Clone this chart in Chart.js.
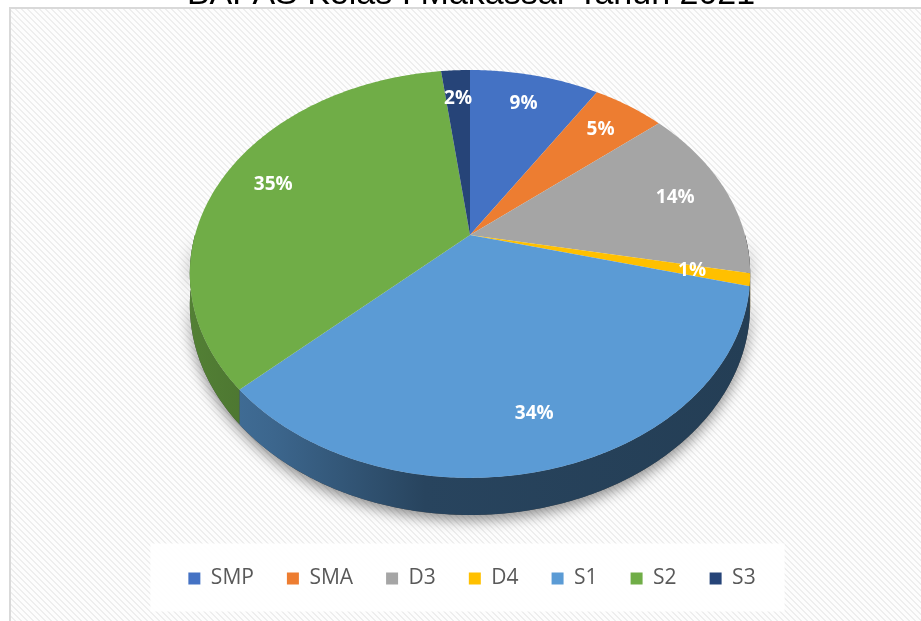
<!DOCTYPE html>
<html>
<head>
<meta charset="utf-8">
<title>Kelas I Makassar Tahun 2021</title>
<script src="https://cdn.jsdelivr.net/npm/chart.js@4.4.1/dist/chart.umd.min.js"></script>
<style>
  html, body { margin: 0; padding: 0; background: #fff; }
  #chart { display: block; }
</style>
</head>
<body>
<canvas id="chart" width="921" height="621"></canvas>
<script>
// Chart data
const categories = ['SMP', 'SMA', 'D3', 'D4', 'S1', 'S2', 'S3'];
const percentages = [9, 5, 14, 1, 34, 35, 2];
const chartTitle = 'BAPAS Kelas I Makassar Tahun 2021';

// Office palette
const sliceColors = ['#4472c4', '#ed7d31', '#a5a5a5', '#ffc000', '#5b9bd5', '#70ad47', '#264478'];

// Tilted pie: where the flat pie lands on screen (centre, half axes, perspective, rim depth)
const tilt = { cx: 470, cy: 235, rx: 275, ry: 196.5, k: 0.191, depth: 30 };

function project(u, v) {
  const w = 1 - tilt.k * v;
  return { x: tilt.cx + tilt.rx * u / w, y: tilt.cy + tilt.ry * v / w };
}

function shade(hex, f) {
  const n = parseInt(hex.slice(1), 16);
  const r = Math.round(((n >> 16) & 255) * f);
  const g = Math.round(((n >> 8) & 255) * f);
  const b = Math.round((n & 255) * f);
  return `rgb(${r},${g},${b})`;
}

function makeHatch() {
  const size = 6;
  const tile = document.createElement('canvas');
  tile.width = size;
  tile.height = size;
  const tctx = tile.getContext('2d');
  const img = tctx.createImageData(size, size);
  for (let y = 0; y < size; y++) {
    for (let x = 0; x < size; x++) {
      const d = ((x - y) % size + size) % size;
      const c = d < 2 ? 238 : 253;
      const i = (y * size + x) * 4;
      img.data[i] = c; img.data[i + 1] = c; img.data[i + 2] = c; img.data[i + 3] = 255;
    }
  }
  tctx.putImageData(img, 0, 0);
  return tile;
}

/**
 * Page background, frame, (cut off) title and the legend panel
 */
const backgroundPlugin = {
  id: 'background',
  beforeDraw(chart) {
    const { ctx, width, height } = chart;
    ctx.save();
    ctx.fillStyle = '#fff';
    ctx.fillRect(0, 0, width, height);
    ctx.fillStyle = ctx.createPattern(makeHatch(), 'repeat');
    ctx.fillRect(11, 9, width, height);
    ctx.strokeStyle = '#d9d9d9';
    ctx.lineWidth = 2;
    ctx.strokeRect(10, 8, width + 20, height + 20);

    ctx.fillStyle = '#000';
    ctx.font = '34px "Liberation Sans", Arial, sans-serif';
    ctx.textAlign = 'center';
    ctx.textBaseline = 'alphabetic';
    ctx.fillText(chartTitle, 471, 4);

    const boxes = chart.legend.legendHitBoxes;
    if (boxes && boxes.length) {
      const first = boxes[0];
      const last = boxes[boxes.length - 1];
      const midY = first.top + first.height / 2;
      ctx.fillStyle = 'rgba(255,255,255,0.92)';
      ctx.fillRect(first.left - 38, midY - 35, last.left + last.width + 29 - (first.left - 38), 68);
    }
    ctx.restore();
  }
};

/**
 * Fake 3D: rim walls under the pie, and a perspective projection for the slices
 */
const tiltPlugin = {
  id: 'tilt',
  beforeDatasetsDraw(chart) {
    const ctx = chart.ctx;
    const arcs = chart.getDatasetMeta(0).data;
    const rimPath = (a, b) => {
      const steps = Math.max(2, Math.ceil((b - a) / 0.01));
      ctx.beginPath();
      for (let i = 0; i <= steps; i++) {
        const t = a + (b - a) * i / steps;
        const p = project(Math.cos(t), Math.sin(t));
        ctx.lineTo(p.x, p.y);
      }
      for (let i = steps; i >= 0; i--) {
        const t = a + (b - a) * i / steps;
        const v = Math.sin(t);
        const p = project(Math.cos(t), v);
        ctx.lineTo(p.x, p.y + tilt.depth / (1 - tilt.k * v));
      }
      ctx.closePath();
    };

    ctx.save();
    // soft drop shadow under the whole rim
    ctx.shadowColor = 'rgba(0,0,0,0.45)';
    ctx.shadowBlur = 14;
    ctx.shadowOffsetY = 5;
    ctx.fillStyle = '#444';
    rimPath(0, Math.PI);
    ctx.fill();
    ctx.restore();

    ctx.save();
    arcs.forEach((arc, i) => {
      const a = Math.max(arc.startAngle, 0);
      const b = Math.min(arc.endAngle, Math.PI);
      if (a >= b) return;
      const base = sliceColors[i];
      const grad = ctx.createLinearGradient(tilt.cx - tilt.rx * 1.02, 0, tilt.cx + tilt.rx * 1.02, 0);
      grad.addColorStop(0, shade(base, 0.74));
      grad.addColorStop(0.15, shade(base, 0.66));
      grad.addColorStop(0.42, shade(base, 0.44));
      grad.addColorStop(1, shade(base, 0.40));
      ctx.fillStyle = grad;
      rimPath(a, b);
      ctx.fill();
    });
    ctx.restore();

    // project the slices the library draws
    const ref = arcs[0];
    const toScreen = (x, y) => project((x - ref.x) / ref.outerRadius, (y - ref.y) / ref.outerRadius);
    const lineTo = CanvasRenderingContext2D.prototype.lineTo;
    const moveTo = CanvasRenderingContext2D.prototype.moveTo;
    ctx.moveTo = function (x, y) {
      const p = toScreen(x, y);
      moveTo.call(ctx, p.x, p.y);
    };
    ctx.lineTo = function (x, y) {
      const p = toScreen(x, y);
      lineTo.call(ctx, p.x, p.y);
    };
    ctx.arc = function (x, y, r, a0, a1, ccw) {
      if (r <= 0) {
        const p = toScreen(x, y);
        lineTo.call(ctx, p.x, p.y);
        return;
      }
      let sweep = a1 - a0;
      if (!ccw && sweep < 0) sweep += Math.PI * 2;
      if (ccw && sweep > 0) sweep -= Math.PI * 2;
      const steps = Math.max(2, Math.ceil(Math.abs(sweep) / 0.01));
      for (let i = 0; i <= steps; i++) {
        const t = a0 + sweep * i / steps;
        const p = toScreen(x + r * Math.cos(t), y + r * Math.sin(t));
        lineTo.call(ctx, p.x, p.y);
      }
    };
  },
  afterDatasetsDraw(chart) {
    const ctx = chart.ctx;
    delete ctx.moveTo;
    delete ctx.lineTo;
    delete ctx.arc;

    // percentage labels
    const arcs = chart.getDatasetMeta(0).data;
    const values = chart.data.datasets[0].data;
    const total = values.reduce((s, v) => s + v, 0);
    ctx.save();
    ctx.fillStyle = '#fff';
    ctx.font = 'bold 19px "Open Sans", sans-serif';
    ctx.textAlign = 'center';
    ctx.textBaseline = 'middle';
    arcs.forEach((arc, i) => {
      const mid = (arc.startAngle + arc.endAngle) / 2;
      const p = project(0.8 * Math.cos(mid), 0.8 * Math.sin(mid));
      ctx.fillText(Math.round(values[i] / total * 100) + '%', p.x, p.y);
    });
    ctx.restore();
  }
};

new Chart(document.getElementById('chart'), {
  type: 'pie',
  data: {
    labels: categories,
    datasets: [{
      data: percentages,
      backgroundColor: sliceColors,
      borderWidth: 0,
      clip: false
    }]
  },
  options: {
    responsive: false,
    animation: false,
    events: [],
    layout: { padding: { left: 23, bottom: 22 } },
    plugins: {
      tooltip: { enabled: false },
      legend: {
        position: 'bottom',
        labels: {
          boxWidth: 12,
          boxHeight: 12,
          padding: 33,
          color: '#595959',
          font: { family: 'Open Sans', size: 21 }
        }
      }
    }
  },
  plugins: [backgroundPlugin, tiltPlugin]
});
</script>
</body>
</html>
